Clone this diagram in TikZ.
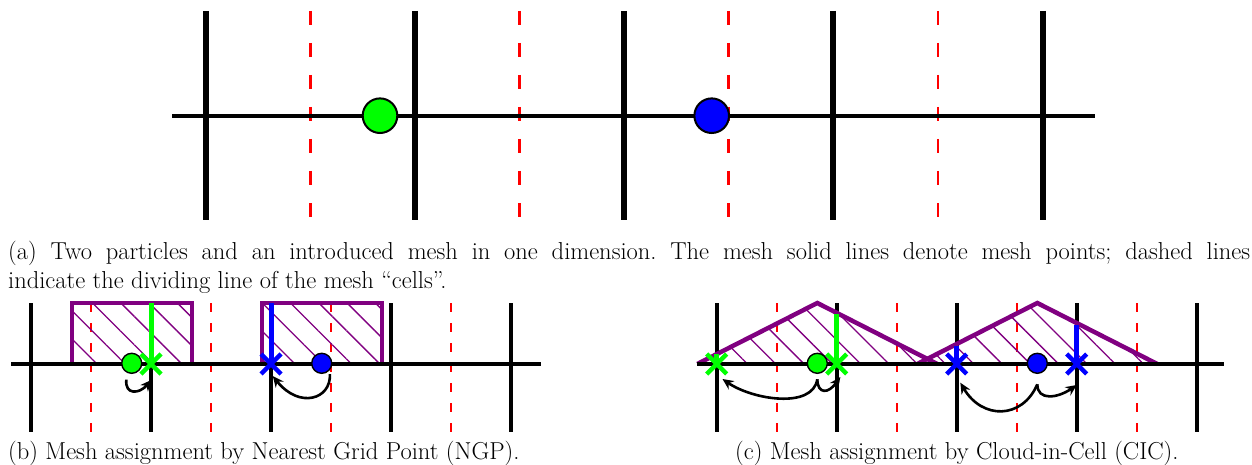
\documentclass[tikz,border=0pt]{standalone}
\usetikzlibrary{arrows.meta,patterns.meta,shapes.misc}
\definecolor{pur}{RGB}{128,0,128}
\tikzset{
  meshA/.style={line width=6pt},
  hlineA/.style={line width=4.5pt},
  cellA/.style={red, line width=2.6pt, dash pattern=on 14pt off 18pt},
  partA/.style={circle, draw=black, line width=2pt, minimum size=34.6pt, inner sep=0pt},
  meshB/.style={line width=4pt},
  cellB/.style={red, line width=1.8pt, dash pattern=on 9pt off 11pt},
  partB/.style={circle, draw=black, line width=1.4pt, minimum size=20pt, inner sep=0pt},
  cloudfill/.style={pattern={Lines[angle=-45,distance=20pt,line width=1.3pt]}, pattern color=pur},
  cloudline/.style={draw=pur, line width=4.5pt},
  bar/.style={line width=5pt},
  crs/.style={cross out, draw=#1, line width=4.5pt, minimum size=20pt, inner sep=0pt, outer sep=0pt},
  arr/.style={-{Stealth[length=11pt,width=10pt]}, line width=2.6pt},
  captext/.style={inner sep=0pt, anchor=base west, font=\fontsize{24.5}{29.4}\selectfont\frenchspacing}
}
\begin{document}
\frenchspacing
\begin{tikzpicture}[x=1pt,y=-1pt]
\useasboundingbox (0,0) rectangle (1252,465);
% ---------------- panel (a)
\foreach \x in {206,415.3,624,833.3,1042.7} \draw[meshA] (\x,11) -- (\x,220);
\foreach \x in {310.7,519.7,728.7,938} \draw[cellA] (\x,11) -- (\x,220);
\draw[hlineA] (172,116) -- (1095,116);
\node[partA, fill=green] (pa1) at (380,115.7) {};
\node[partA, fill=blue] (pa2) at (711.7,115.7) {};
\node[captext] (capa) at (8,259) {\parbox[t]{1242pt}{\frenchspacing\hbox to\hsize{(a) Two particles and an introduced mesh in one dimension. The mesh solid lines denote mesh points; dashed lines}\noindent indicate the dividing line of the mesh ``cells''.}};
% ---------------- panel (b)
\foreach \x in {31,151,271,391,511} \draw[meshB] (\x,303) -- (\x,432);
\foreach \x in {91,211,331,451} \draw[cellB] (\x,303) -- (\x,432);
\fill[cloudfill] (71.7,303) rectangle (191.7,364);
\fill[cloudfill] (261.7,303) rectangle (381.7,364);
\draw[cloudline, line width=4pt] (71.7,303) rectangle (191.7,364);
\draw[cloudline, line width=4pt] (261.7,303) rectangle (381.7,364);
\draw[bar, green] (151,303) -- (151,364);
\draw[bar, blue] (271,303) -- (271,364);
\draw[meshB] (11,364) -- (541,364);
\node[partB, fill=green] (pb1) at (131.7,363.3) {};
\node[partB, fill=blue] (pb2) at (321.7,363.3) {};
\node[crs=green] (xb1) at (151,364) {};
\node[crs=blue] (xb2) at (271,364) {};
\draw[arr] ([yshift=-7pt]pb1.240) .. controls +(-1.7,15.7) and +(-12,14) .. ([yshift=-6pt]xb1.-88);
\draw[arr] ([yshift=-4pt]pb2.-40) .. controls +(1.3,25) and +(26.7,33.3) .. ([yshift=-2pt]xb2.-80);
\node[captext] (capb) at (8,459) {(b) Mesh assignment by Nearest Grid Point (NGP).};
% ---------------- panel (c)
\foreach \x in {716.7,836.7,956.7,1076.7,1196.7} \draw[meshB] (\x,303) -- (\x,432);
\foreach \x in {776.7,896.7,1016.7,1136.7} \draw[cellB] (\x,303) -- (\x,432);
\fill[cloudfill] (697.3,364) -- (817.3,303) -- (937.3,364) -- cycle;
\fill[cloudfill] (917.3,364) -- (1037.3,303) -- (1157.3,364) -- cycle;
\draw[cloudline] (697.3,364) -- (817.3,303) -- (937.3,364);
\draw[cloudline] (917.3,364) -- (1037.3,303) -- (1157.3,364);
\draw[bar, green] (716.7,354) -- (716.7,364);
\draw[bar, green] (836.7,314) -- (836.7,364);
\draw[bar, blue] (956.7,346) -- (956.7,364);
\draw[bar, blue] (1076.7,325) -- (1076.7,364);
\draw[meshB] (697,364) -- (1224,364);
\node[partB, fill=green] (pc1) at (817.3,363.3) {};
\node[partB, fill=blue] (pc2) at (1037.3,363.3) {};
\node[crs=green] (xc1) at (716.7,364) {};
\node[crs=green] (xc2) at (836.7,364) {};
\node[crs=blue] (xc3) at (956.7,364) {};
\node[crs=blue] (xc4) at (1076.7,364) {};
\draw[arr] ([yshift=-5.3pt]pc1.south) .. controls +(-4.7,30) and +(30,20.7) .. ([yshift=-5pt]xc1.-60);
\draw[arr] ([yshift=-5.3pt]pc1.south) .. controls +(0.3,15) and +(-12,17) .. ([yshift=-3pt]xc2.-70);
\draw[arr] ([yshift=-10.3pt]pc2.south) .. controls +(-15,35) and +(22,37.3) .. ([yshift=-8.7pt]xc3.-70);
\draw[arr] ([yshift=-10.3pt]pc2.south) .. controls +(0,17) and +(-18.7,13) .. ([yshift=-11pt]xc4.south);
\node[captext] (capc) at (735,459) {(c) Mesh assignment by Cloud-in-Cell (CIC).};
\end{tikzpicture}
\end{document}
